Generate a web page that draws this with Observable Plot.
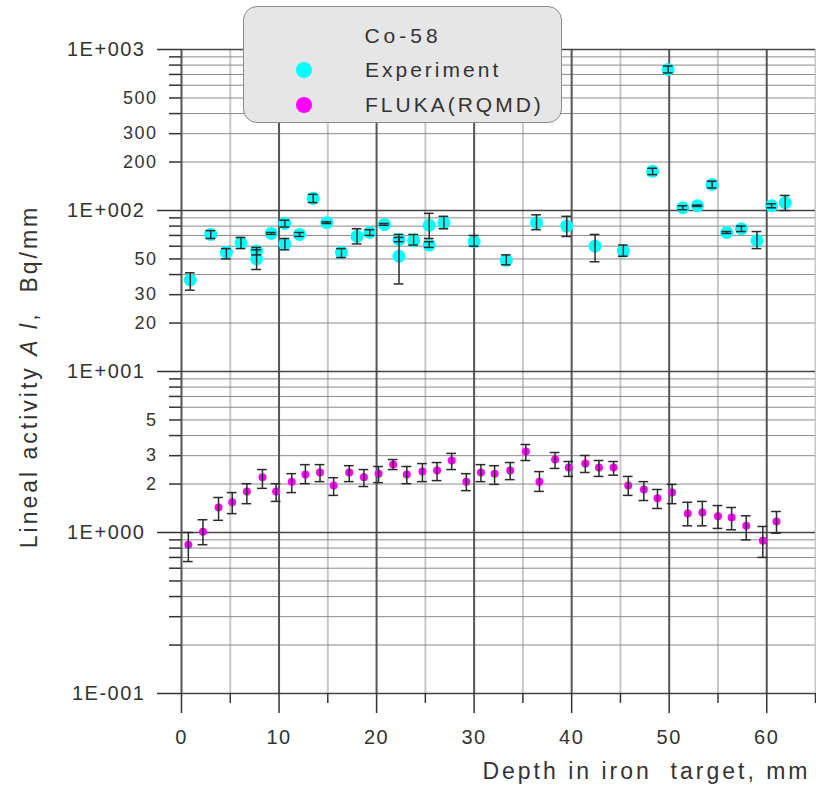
<!DOCTYPE html>
<html>
<head>
<meta charset="utf-8">
<script src="https://cdn.jsdelivr.net/npm/d3@7"></script>
<script src="https://cdn.jsdelivr.net/npm/@observablehq/plot@0.6"></script>
<style>
  body { margin: 0; background: #fff; font-family: "Liberation Sans", Arial, sans-serif; }
  #wrap { position: relative; width: 816px; height: 793px; overflow: hidden; }
  #legend { position: absolute; left: 243px; top: 6px; width: 319px; height: 117px; box-sizing: border-box;
    background: #e6e6e6; border: 1.5px solid #8a8a8a; border-radius: 14px; color: #333; }
  #legend .title { position: absolute; left: 0; width: 318px; top: 17px; text-align: center; font-size: 21px; letter-spacing: 4px; line-height: 24px; padding-left: 0px; }
  #legend .row { position: absolute; left: 0; height: 24px; line-height: 24px; font-size: 21px; letter-spacing: 3px; }
  #legend .dot { position: absolute; left: 52px; top: 4px; width: 16px; height: 16px; border-radius: 50%; }
  #legend .lab { position: absolute; left: 121px; white-space: nowrap; }
</style>
</head>
<body>
<div id="wrap"></div>
<script>
// ---- data ----
const expDepth = [0.9, 3.0, 4.6, 6.1, 7.7, 7.7, 9.2, 10.6, 10.6, 12.1, 13.5, 14.9, 16.4, 18.0, 19.3, 20.8, 22.3, 22.3, 23.8, 25.4, 25.4, 26.9, 30.0, 33.3, 36.4, 39.5, 42.4, 45.3, 48.3, 49.9, 51.4, 52.9, 54.4, 55.9, 57.4, 59.0, 60.5, 61.9];
const expValue = [37, 71, 55, 63, 56, 50, 72, 83, 62, 71, 119, 84, 55, 69, 73, 82, 66, 52, 65, 81, 61, 84, 64, 49, 84, 80, 60, 56, 175, 751, 104, 107, 145, 73, 77, 65, 107, 112];
const expLow   = [32, 67, 50, 58, 53, 43, 71, 79, 57, 69, 112, 83, 51, 62, 70, 81, 64, 35, 61, 67, 59, 77, 60, 46, 76, 69, 48, 52, 167, 715, 101, 106, 138, 72, 74, 58, 104, 100];
const expHigh  = [41, 75, 58, 68, 59, 57, 73, 87, 67, 73, 126, 85, 58, 77, 76, 83, 68, 71, 71, 96, 64, 92, 70, 53, 94, 92, 71, 61, 183, 790, 107, 108, 152, 74, 80, 74, 110, 124];

const flukaDepth = [0.7, 2.2, 3.8, 5.2, 6.7, 8.3, 9.7, 11.3, 12.7, 14.2, 15.6, 17.2, 18.7, 20.2, 21.7, 23.1, 24.7, 26.2, 27.7, 29.2, 30.7, 32.1, 33.7, 35.3, 36.7, 38.3, 39.7, 41.4, 42.8, 44.3, 45.8, 47.4, 48.8, 50.3, 51.9, 53.4, 55.0, 56.4, 57.9, 59.6, 61.0];
const flukaValue = [0.84, 1.01, 1.43, 1.54, 1.8, 2.2, 1.8, 2.07, 2.29, 2.36, 1.96, 2.36, 2.2, 2.32, 2.64, 2.29, 2.39, 2.43, 2.8, 2.07, 2.36, 2.32, 2.43, 3.18, 2.07, 2.84, 2.53, 2.68, 2.53, 2.53, 1.96, 1.85, 1.63, 1.77, 1.31, 1.33, 1.26, 1.24, 1.1, 0.89, 1.17];
const flukaLow   = [0.66, 0.84, 1.19, 1.31, 1.51, 1.88, 1.56, 1.77, 2.01, 2.07, 1.70, 2.07, 1.93, 2.04, 2.46, 2.01, 2.07, 2.10, 2.46, 1.82, 2.07, 1.99, 2.13, 2.80, 1.80, 2.50, 2.23, 2.36, 2.23, 2.27, 1.70, 1.58, 1.41, 1.51, 1.10, 1.10, 1.06, 1.04, 0.90, 0.70, 0.99];
const flukaHigh  = [1.0, 1.2, 1.65, 1.77, 2.01, 2.46, 2.01, 2.32, 2.64, 2.64, 2.19, 2.60, 2.46, 2.57, 2.84, 2.57, 2.68, 2.72, 3.10, 2.32, 2.64, 2.60, 2.72, 3.52, 2.39, 3.14, 2.76, 3.01, 2.80, 2.76, 2.23, 2.07, 1.85, 1.99, 1.54, 1.56, 1.47, 1.43, 1.27, 1.09, 1.35];

const yMajorTicks = [0.1, 1, 10, 100, 1000];
const yMajorLabels = ["1E-001", "1E+000", "1E+001", "1E+002", "1E+003"];
const yMinorMultipliers = [2, 3, 4, 5, 6, 7, 8, 9];
const yMinorLabelValues = [2, 3, 5, 20, 30, 50, 200, 300, 500];
const yMinorLabelTexts = ["2", "3", "5", "20", "30", "50", "200", "300", "500"];
const xMajorTicks = [0, 10, 20, 30, 40, 50, 60];
const xMinorTicks = [5, 15, 25, 35, 45, 55, 65];

const legendTitle = "Co-58";
const seriesNames = ["Experiment", "FLUKA(RQMD)"];
const seriesColors = ["#00ffff", "#ff00ff"];
const xTitle = "Depth in iron  target, mm";
const yTitle = "Lineal activity Al, Bq/mm";

// ---- tables ----
const expData = expDepth.map((d, i) => ({depth: d, value: expValue[i], low: expLow[i], high: expHigh[i]}));
const flukaData = flukaDepth.map((d, i) => ({depth: d, value: flukaValue[i], low: flukaLow[i], high: flukaHigh[i]}));
const yMinorTicks = [];
for (const dec of [0.1, 1, 10, 100]) for (const m of yMinorMultipliers) yMinorTicks.push(+(m * dec).toPrecision(6));
const majorLabelTable = yMajorTicks.map((v, i) => ({v, t: yMajorLabels[i]}));
const minorLabelTable = yMinorLabelValues.map((v, i) => ({v, t: yMinorLabelTexts[i]}));

const capHalf = 0.5;
const ink = "#2a2a2a";

function errorBars(data) {
  return [
    Plot.ruleX(data, {x: "depth", y1: "low", y2: "high", stroke: ink, strokeWidth: 1.5}),
    Plot.ruleY(data, {y: "low", x1: d => d.depth - capHalf, x2: d => d.depth + capHalf, stroke: ink, strokeWidth: 1.5}),
    Plot.ruleY(data, {y: "high", x1: d => d.depth - capHalf, x2: d => d.depth + capHalf, stroke: ink, strokeWidth: 1.5})
  ];
}

const svg = Plot.plot({
  width: 816,
  height: 793,
  marginLeft: 181,
  marginRight: 1,
  marginTop: 49,
  marginBottom: 100,
  x: {domain: [0, 65]},
  y: {type: "log", domain: [0.1, 1000]},
  style: {fontFamily: "'Liberation Sans', Arial, sans-serif", color: "#333", background: "#fff"},
  marks: [
    Plot.gridX(xMinorTicks, {stroke: "#c8c8c8", strokeOpacity: 1, strokeWidth: 2}),
    Plot.gridY(yMinorTicks, {stroke: "#8a8a8a", strokeOpacity: 1, strokeWidth: 1}),
    Plot.gridX(xMajorTicks, {stroke: "#555", strokeOpacity: 1, strokeWidth: 2}),
    Plot.gridY(yMajorTicks, {stroke: "#444", strokeOpacity: 1, strokeWidth: 1.5}),
    Plot.axisY(yMajorTicks, {tickSize: 24, tickFormat: () => "", stroke: "#333", strokeWidth: 1.5, label: null}),
    Plot.axisY(yMinorTicks, {tickSize: 12, tickFormat: () => "", stroke: "#333", strokeWidth: 1.5, label: null}),
    Plot.text(majorLabelTable, {y: "v", text: "t", frameAnchor: "left", dx: -36, textAnchor: "end", fontSize: 20, fill: "#333"}),
    Plot.text(minorLabelTable, {y: "v", text: "t", frameAnchor: "left", dx: -24, textAnchor: "end", fontSize: 18, fill: "#333"}),
    Plot.axisX(xMajorTicks, {tickSize: 20, tickPadding: 16, fontSize: 20, stroke: "#333", strokeWidth: 1.5, label: null}),
    Plot.axisX(xMinorTicks, {tickSize: 10, tickFormat: () => "", stroke: "#333", strokeWidth: 1.5, label: null}),
    Plot.dot(expData, {x: "depth", y: "value", r: 6.5, fill: seriesColors[0]}),
    ...errorBars(expData),
    Plot.dot(flukaData, {x: "depth", y: "value", r: 4, fill: seriesColors[1]}),
    ...errorBars(flukaData),
    Plot.text([xTitle], {frameAnchor: "bottom-right", dx: -5, dy: 85, textAnchor: "end", fontSize: 23, fill: "#333", text: d => d}),
    Plot.text([yTitle], {frameAnchor: "left", dx: -152, dy: 5, rotate: -90, textAnchor: "middle", fontSize: 23, fill: "#333", text: d => d})
  ]
});

const s = d3.select(svg);
s.selectAll("text").filter(function () { return /^(1E|[0-9]+$)/.test(this.textContent) && this.getAttribute("text-anchor") !== "middle"; }).attr("letter-spacing", "1.5px");
s.selectAll("text").filter(function () { return this.textContent === xTitle; }).attr("letter-spacing", "3px");
s.selectAll("text").filter(function () { return this.textContent === yTitle; }).each(function () {
  const t = d3.select(this);
  t.text(null).attr("letter-spacing", "3px").attr("text-anchor", "middle");
  t.append("tspan").text("Lineal activity ");
  t.append("tspan").attr("font-style", "italic").text("A l");
  t.append("tspan").text(",  Bq/mm");
});

const wrap = document.getElementById("wrap");
wrap.appendChild(svg);

const legend = document.createElement("div");
legend.id = "legend";
legend.innerHTML = `<div class="title"></div>` +
  seriesNames.map((n, i) => `<div class="row" style="top:${51 + i * 35}px"><span class="dot" style="background:${seriesColors[i]}"></span><span class="lab"></span></div>`).join("");
legend.querySelector(".title").textContent = legendTitle;
legend.querySelectorAll(".lab").forEach((el, i) => el.textContent = seriesNames[i]);
wrap.appendChild(legend);
</script>
</body>
</html>
